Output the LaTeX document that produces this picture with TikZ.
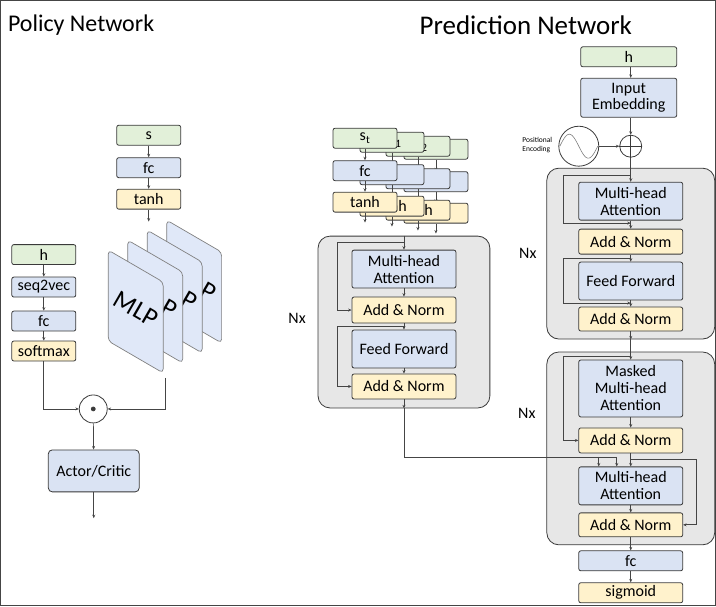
\documentclass[tikz,border=0pt]{standalone}
\usepackage{fontspec}
\setmainfont{Carlito}
\usetikzlibrary{arrows.meta}

\definecolor{ingreen}{HTML}{E2F0D9}
\definecolor{layblue}{HTML}{DAE3F3}
\definecolor{normyel}{HTML}{FFF2CC}
\definecolor{stackgray}{HTML}{E7E7E7}
\definecolor{slabblue}{HTML}{E0E8F8}
\definecolor{boxline}{HTML}{3A3A3A}
\definecolor{wire}{HTML}{454545}

\begin{document}
\begin{tikzpicture}[x=1pt, y=-1pt,
    >={Stealth[length=3.5pt,width=3pt]},
    every path/.style={draw=wire, line width=0.7pt},
    blk/.style={draw=boxline, line width=0.8pt, rounded corners=2pt,
        minimum width=64, minimum height=20, inner sep=0pt,
        font=\fontsize{16}{17}\selectfont},
    wide/.style={blk, minimum width=104, align=center},
    stackbox/.style={draw=boxline, line width=0.8pt, fill=stackgray, rounded corners=12pt},
    slab/.style={draw=gray, line width=0.7pt, fill=slabblue, rounded corners=4pt},
    lbl/.style={font=\fontsize{16}{17}\selectfont}]
    \useasboundingbox (0,0) rectangle (716,606);

    % titles
    \node[anchor=west, font=\fontsize{24}{27}\selectfont] (t1) at (4,25) {Policy Network};
    \node[anchor=west, font=\fontsize{27}{30}\selectfont] (t2) at (416,25) {Prediction Network};

    % policy network: state branch
    \node[blk, fill=ingreen] (ps) at (148.5,135) {s};
    \node[blk, fill=layblue] (pfc) at (148.5,167.5) {fc};
    \node[blk, fill=normyel] (pt) at (148.5,199) {tanh};
    \draw[->] (ps) -- (pfc);
    \draw[->] (pfc) -- (pt);
    \draw[->] (pt.south) -- ++(0,12);

    % MLP slabs
    \foreach \i in {3,2,1,0} {
        \draw[slab] (108+19.5*\i,250-10*\i) -- ++(55,32) -- ++(0,91) -- ++(-55,-32) -- cycle;
        \node[rotate=-30, font=\fontsize{26}{28}\selectfont] at (136+19.3*\i,309-8.5*\i) {MLP};
    }
    \coordinate (mlpout) at (165,378);

    % policy network: history branch
    \node[blk, fill=ingreen] (ph) at (43.5,254.5) {h};
    \node[blk, fill=layblue] (sv) at (43.5,287) {seq2vec};
    \node[blk, fill=layblue] (pfc2) at (43.5,321) {fc};
    \node[blk, fill=normyel] (soft) at (43.5,351) {softmax};
    \draw[->] (ph) -- (sv);
    \draw[->] (sv) -- (pfc2);
    \draw[->] (pfc2) -- (soft);

    \node[draw=boxline, line width=0.8pt, circle, minimum size=28, inner sep=0pt] (dot) at (93,409) {};
    \fill[boxline] (dot.center) circle (2pt);
    \draw[->] (soft.south) |- (dot.west);
    \draw[->] (mlpout) |- (dot.east);
    \node[blk, fill=layblue, rounded corners=4pt, minimum width=91, minimum height=42] (ac) at (93.5,471) {Actor/Critic};
    \draw[->] (dot) -- (ac);
    \draw[->] (ac.south) -- ++(0,26);

    % prediction network: stacked state inputs
    \foreach \dx/\dy/\lab/\n in {71/11/{s\textsubscript{t-3}}/d, 53/8/{s\textsubscript{t-2}}/c,
                                 27/4/{s\textsubscript{t-1}}/b, 0/0/{s\textsubscript{t}}/a} {
        \node[blk, fill=ingreen] (s\n) at (365+\dx,138+\dy) {\lab};
        \node[blk, fill=layblue] (fc\n) at (365+\dx,170.5+\dy) {fc};
        \node[blk, fill=normyel] (th\n) at (365+\dx,202+\dy) {tanh};
        \draw[->] (s\n) -- (fc\n);
        \draw[->] (fc\n) -- (th\n);
        \draw[->] (th\n.south) -- ++(0,10);
    }

    % encoder
    \node[stackbox, minimum width=172, minimum height=172] (enc) at (404,322) {};
    \node[lbl] (nx1) at (297,318) {Nx};
    \node[wide, fill=layblue, minimum height=38] (mha1) at (404,269) {Multi-head\\Attention};
    \node[wide, fill=normyel, minimum height=26] (an1) at (404,310) {Add \& Norm};
    \node[wide, fill=layblue, minimum height=38] (ff1) at (404,349) {Feed Forward};
    \node[wide, fill=normyel, minimum height=25] (an2) at (404,386.5) {Add \& Norm};
    \coordinate (r1) at (404,242);
    \coordinate (r2) at (404,326.5);
    \draw[->] (enc.north) -- (mha1.north);
    \draw[->] (r1) -- ++(-67,0) |- (an1.west);
    \draw[->] (mha1) -- (an1);
    \draw[->] (an1) -- (ff1);
    \draw[->] (r2) -- ++(-67,0) |- (an2.west);
    \draw[->] (ff1) -- (an2);
    \draw[->] (an2) -- (enc.south);

    % prediction network: history input
    \node[blk, fill=ingreen, minimum width=96] (h2) at (629,56.5) {h};
    \node[blk, fill=layblue, minimum width=96, minimum height=39, align=center] (emb) at (629,97.5) {Input\\Embedding};
    \node[draw=boxline, line width=0.8pt, circle, minimum size=22, inner sep=0pt] (plus) at (631,146) {};
    \draw[boxline, line width=0.8pt] (plus.north) -- (plus.south) (plus.west) -- (plus.east);
    \node[draw=boxline, line width=0.8pt, circle, minimum size=40, inner sep=0pt] (pe) at (579,146) {};
    \draw[gray, line width=0.6pt] plot[domain=-19:19, samples=40, smooth] ({579+\x},{146+12*sin(\x*180/19)});
    \node[anchor=east, align=left, font=\fontsize{7.5}{9}\selectfont] (pel) at (556,145) {Positional\\Encoding};
    \draw[->] (h2.south -| plus) -- (emb.north -| plus);
    \draw[->] (emb.south -| plus) -- (plus);
    \draw[->] (pe) -- (plus);

    % first stack
    \node[stackbox, minimum width=168, minimum height=171] (dec1) at (631,253.5) {};
    \node[lbl] (nx2) at (528,253) {Nx};
    \node[wide, fill=layblue, minimum height=38] (mha3) at (631,201) {Multi-head\\Attention};
    \node[wide, fill=normyel, minimum height=25] (an3) at (631,241.5) {Add \& Norm};
    \node[wide, fill=layblue, minimum height=38] (ff2) at (631,281) {Feed Forward};
    \node[wide, fill=normyel, minimum height=24] (an4) at (631,319) {Add \& Norm};
    \coordinate (r3) at (631,175);
    \coordinate (r3e) at (631,223);
    \coordinate (r4) at (631,258);
    \coordinate (r4e) at (631,303);
    \draw[->] (plus) -- (mha3);
    \draw[->] (r3) -- ++(-67,0) |- (r3e);
    \draw[->] (mha3) -- (an3);
    \draw[->] (an3) -- (ff2);
    \draw[->] (r4) -- ++(-67,0) |- (r4e);
    \draw[->] (ff2) -- (an4);
    \draw[->] (an4) -- (dec1.south);

    % second stack
    \node[stackbox, minimum width=168, minimum height=193] (dec2) at (631,448.5) {};
    \node[lbl] (nx3) at (527,413) {Nx};
    \node[wide, fill=layblue, minimum height=57] (mmha) at (631,388.5) {Masked\\Multi-head\\Attention};
    \node[wide, fill=normyel, minimum height=25] (an5) at (631,440.5) {Add \& Norm};
    \node[wide, fill=layblue, minimum height=38] (mha4) at (631,486) {Multi-head\\Attention};
    \node[wide, fill=normyel, minimum height=24] (an6) at (631,525) {Add \& Norm};
    \coordinate (r5) at (631,356);
    \coordinate (r6) at (631,459);
    \coordinate (k) at (599,457);
    \coordinate (v) at (617,457);
    \draw[->] (dec1.south) -- (mmha.north);
    \draw[->] (r5) -- ++(-67,0) |- (an5.west);
    \draw[->] (mmha) -- (an5);
    \draw[->] (an5) -- (mha4);
    \draw (enc.south) |- (v);
    \draw[->] (k) -- (k |- mha4.north);
    \draw[->] (v) -- (v |- mha4.north);
    \draw[->] (r6) -- ++(66,0) |- (an6.east);
    \draw[->] (mha4) -- (an6);

    % output head
    \node[wide, fill=layblue] (fc3) at (631,561) {fc};
    \node[wide, fill=normyel] (sig) at (631,593) {sigmoid};
    \draw[->] (an6) -- (fc3);
    \draw[->] (fc3) -- (sig);
\end{tikzpicture}
\end{document}
